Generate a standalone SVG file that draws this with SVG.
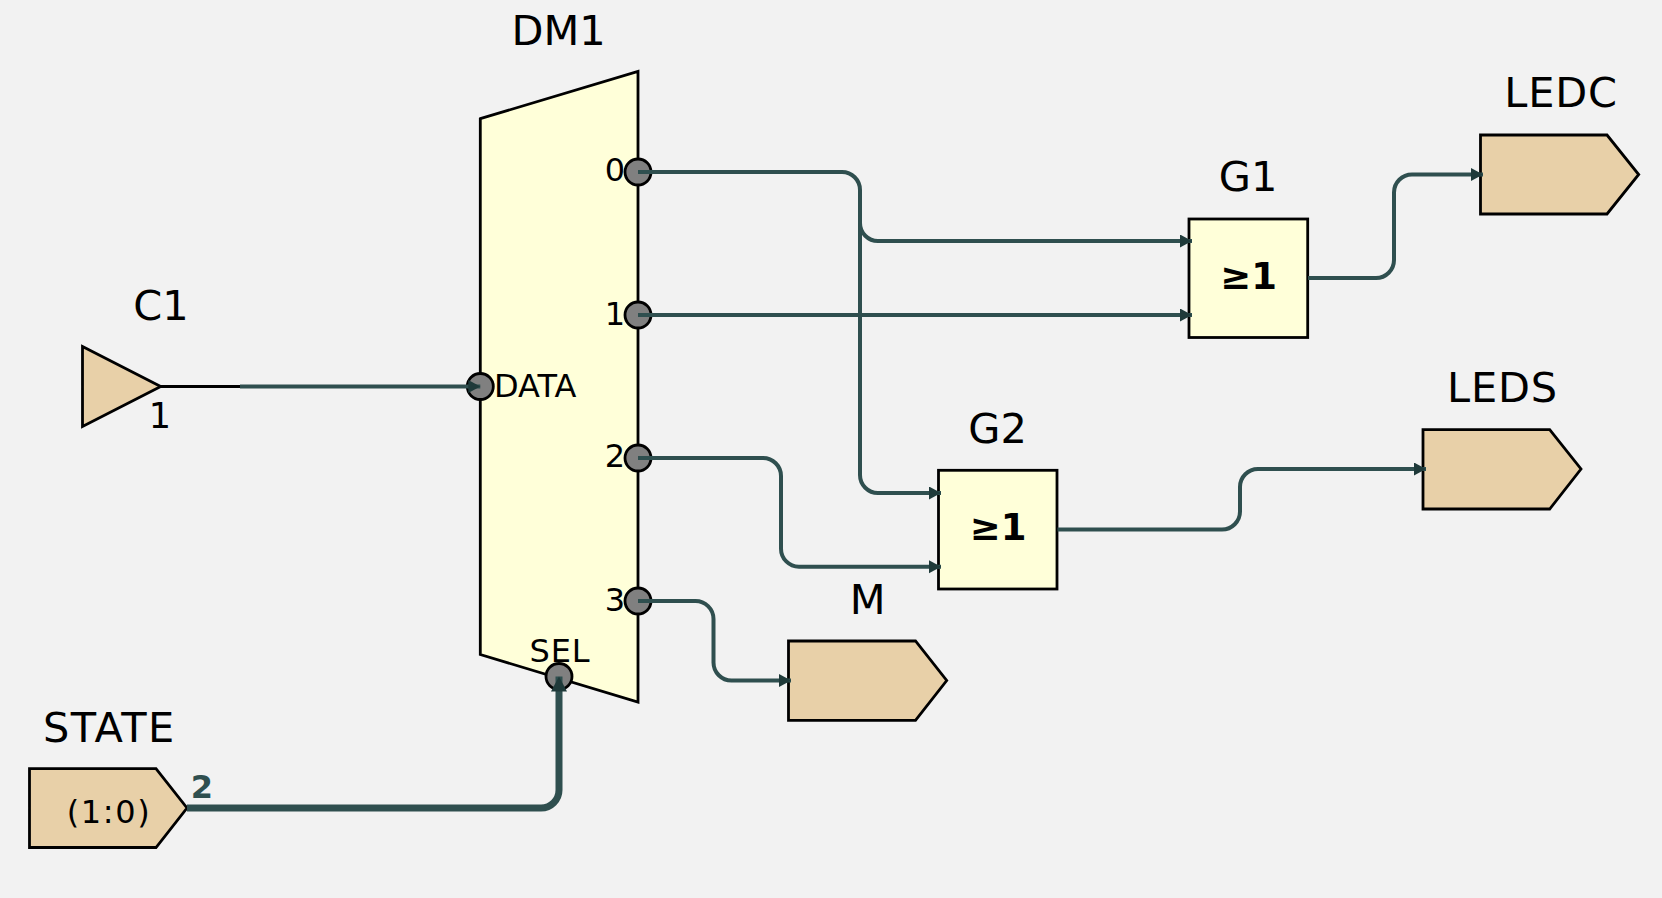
<svg xmlns="http://www.w3.org/2000/svg" width="1662" height="898" viewBox="0 0 1662 898">
<style>
text{font-family:"DejaVu Sans",Verdana,sans-serif;fill:#000}
.name{font-size:41.500px;text-anchor:middle}
.sp1{letter-spacing:.8px}
.sp2{letter-spacing:1.500px}
.sp3{letter-spacing:1.600px}
.pin{font-size:32px}
.mid{text-anchor:middle}
.end{text-anchor:end}
.sym{font-size:37px;font-weight:bold;text-anchor:middle}
.box{stroke:#000;stroke-width:2.800;stroke-linejoin:miter}
.yel{fill:#ffffd9}
.tan{fill:#e8d0a8}
.port{fill:#808080;stroke:#000;stroke-width:2.800}
.wire{fill:none;stroke:#2f4f4f;stroke-width:4}
.bus{fill:none;stroke:#2f4f4f;stroke-width:7}
</style>
<defs>
<marker id="arr" markerUnits="userSpaceOnUse" markerWidth="14" markerHeight="14" refX="12" refY="6.500" orient="auto"><path d="M0 0L12 6.500L0 13z" fill="#1f3a3a"/></marker>
<marker id="arrb" markerUnits="userSpaceOnUse" markerWidth="18" markerHeight="18" refX="15" refY="8" orient="auto"><path d="M0 0L15 8L0 16z" fill="#1f3a3a"/></marker>
</defs>
<rect width="1662" height="898" fill="#f2f2f2"/>
<g id="C1">
<path class="box tan" d="M82.500 346.500L160.700 386.500L82.500 426.500z"/>
<path d="M160.700 386.500H240" stroke="#000" stroke-width="2.800" fill="none"/>
<text class="name" x="161" y="320">C1</text>
<text class="pin mid" x="160" y="428" style="font-size:35px">1</text>
</g>
<g id="DM1">
<path class="box yel" d="M480.300 118.700L638 71.500V702L480.300 654.500z"/>
<circle class="port" cx="638" cy="172" r="13"/>
<circle class="port" cx="638" cy="315" r="13"/>
<circle class="port" cx="638" cy="458" r="13"/>
<circle class="port" cx="638" cy="601" r="13"/>
<circle class="port" cx="480.300" cy="386.500" r="13"/>
<circle class="port" cx="559" cy="676.500" r="13"/>
<text class="name" x="558.700" y="44.500">DM1</text>
<text class="pin end" x="625" y="181">0</text>
<text class="pin end" x="625" y="325">1</text>
<text class="pin end" x="625" y="467">2</text>
<text class="pin end" x="625" y="611">3</text>
<text class="pin" x="494" y="396.700">DATA</text>
<text class="pin mid sp1" x="560" y="661.500">SEL</text>
</g>
<g id="G1">
<rect class="box yel" x="1189" y="219" width="118.700" height="118.500"/>
<text class="name" x="1248" y="191.200">G1</text>
<text class="sym" x="1248.500" y="289">≥1</text>
</g>
<g id="G2">
<rect class="box yel" x="938.500" y="470.300" width="118.500" height="118.700"/>
<text class="name" x="997.500" y="443">G2</text>
<text class="sym" x="998" y="540">≥1</text>
</g>
<g id="LEDC">
<path class="box tan" d="M1480.500 135H1607L1638.700 174.500L1607 214H1480.500z"/>
<text class="name sp1" x="1561" y="107">LEDC</text>
</g>
<g id="LEDS">
<path class="box tan" d="M1423 429.700H1549.700L1581 469L1549.700 509H1423z"/>
<text class="name sp1" x="1502.500" y="402">LEDS</text>
</g>
<g id="M">
<path class="box tan" d="M788.500 641H915.500L946.700 680.500L915.500 720.300H788.500z"/>
<text class="name" x="867.700" y="614.300">M</text>
</g>
<g id="STATE">
<path class="box tan" d="M29.500 768.700H156L187 808L156 847.500H29.500z"/>
<text class="name sp2" x="109.400" y="742">STATE</text>
<text class="pin mid sp3" x="109" y="823">(1:0)</text>
<text class="mid" x="202" y="798" font-size="32" font-weight="bold" style="fill:#2f4f4f">2</text>
</g>
<g id="connectors">
<path class="wire" marker-end="url(#arr)" d="M240 386.500H480.300"/>
<path class="wire" marker-end="url(#arr)" d="M638 172H842A18 18 0 0 1 860 190V475A18 18 0 0 0 878 493H941"/>
<path class="wire" marker-end="url(#arr)" d="M860 190V223A18 18 0 0 0 878 241H1192"/>
<path class="wire" marker-end="url(#arr)" d="M638 315H1192"/>
<path class="wire" marker-end="url(#arr)" d="M638 458H763A18 18 0 0 1 781 476V548.700A18 18 0 0 0 799 566.700H941"/>
<path class="wire" marker-end="url(#arr)" d="M638 601H695A18 18 0 0 1 713.500 619V662.500A18 18 0 0 0 731.500 680.500H791"/>
<path class="wire" marker-end="url(#arr)" d="M1308 278H1376A18 18 0 0 0 1394 260V192.500A18 18 0 0 1 1412 174.500H1483"/>
<path class="wire" marker-end="url(#arr)" d="M1057.500 529.500H1222A18 18 0 0 0 1240 511.500V487A18 18 0 0 1 1258 469H1426"/>
<path class="bus" marker-end="url(#arrb)" d="M187 808H541A18 18 0 0 0 559 790V676.500"/>
</g>
</svg>
